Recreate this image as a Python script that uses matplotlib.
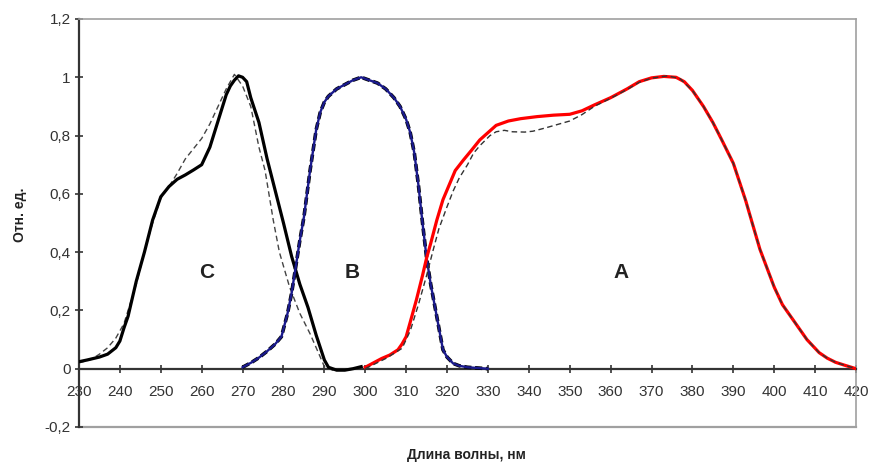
import matplotlib.pyplot as plt

plt.rcParams['font.family'] = ['Liberation Sans', 'DejaVu Sans']

# Curve C (solid black) and its dashed reference
c_x = [230, 232, 235, 237, 239, 240, 241, 242, 244, 246, 248, 250, 252, 254, 256, 258,
       260, 262, 264, 266, 267, 268, 269, 270, 271, 272, 274, 276, 278, 280, 282, 284,
       286, 288, 290, 291, 293, 295, 297, 299]
c_y = [0.024, 0.03, 0.04, 0.05, 0.072, 0.095, 0.14, 0.18, 0.30, 0.40, 0.51, 0.59, 0.625,
       0.65, 0.665, 0.682, 0.70, 0.76, 0.85, 0.94, 0.97, 0.99, 1.005, 1.0, 0.985, 0.93,
       0.845, 0.72, 0.61, 0.50, 0.385, 0.29, 0.21, 0.115, 0.03, 0.005, -0.005, -0.005,
       0.0, 0.007]
cd_x = [230, 233, 235, 237, 239, 241, 244, 246, 248, 250, 252, 254, 256, 258, 260, 262,
        264, 266, 268, 270, 272, 274, 275.5, 277.5, 279, 281.5, 284, 286.5, 289, 290,
        292, 295, 298]
cd_y = [0.02, 0.032, 0.05, 0.072, 0.105, 0.155, 0.29, 0.40, 0.50, 0.585, 0.625, 0.67,
        0.72, 0.755, 0.79, 0.84, 0.90, 0.96, 1.01, 0.97, 0.90, 0.76, 0.68, 0.51, 0.40,
        0.28, 0.19, 0.12, 0.04, 0.007, -0.005, -0.005, 0.0]

# Curve B (blue)
b_x = [270, 272, 274, 276, 278, 279.5, 281, 282, 283, 284, 285, 286.5, 288, 289, 290,
       291, 293, 295, 297, 299, 301, 303, 305, 307, 308.5, 310, 311, 312, 313, 314, 315,
       316, 317.5, 319, 320, 321.5, 323, 325, 330]
b_y = [0.005, 0.02, 0.038, 0.06, 0.085, 0.11, 0.19, 0.26, 0.35, 0.44, 0.52, 0.68, 0.82,
       0.88, 0.915, 0.935, 0.96, 0.975, 0.99, 1.0, 0.99, 0.98, 0.96, 0.93, 0.90, 0.855,
       0.81, 0.74, 0.63, 0.50, 0.38, 0.29, 0.178, 0.065, 0.04, 0.018, 0.01, 0.005, 0.0]

# Curve A (red) and its dashed reference
a_x = [300, 302, 304, 306, 308, 309, 310, 311, 312.5, 314, 315, 316, 317.5, 319, 320.5,
       322, 324, 326, 328, 330, 332, 335, 338, 342, 346, 350, 353, 356, 360, 364, 367,
       370, 373, 376, 378, 380, 382.7, 385, 387, 390, 393, 396.5, 400, 402, 405, 408,
       411, 413, 415, 417, 420]
a_y = [0.005, 0.02, 0.035, 0.047, 0.065, 0.085, 0.11, 0.16, 0.236, 0.32, 0.38, 0.43,
       0.51, 0.58, 0.63, 0.68, 0.716, 0.75, 0.785, 0.81, 0.835, 0.85, 0.858, 0.865, 0.87,
       0.873, 0.885, 0.905, 0.93, 0.96, 0.985, 0.998, 1.003, 1.0, 0.985, 0.955, 0.90,
       0.845, 0.79, 0.705, 0.578, 0.41, 0.28, 0.22, 0.16, 0.10, 0.055, 0.036, 0.022,
       0.013, 0.0]
ad_x = [300, 305, 309, 311, 313, 315, 316.6, 318, 320, 321.5, 323, 325, 326.5, 328,
        330.5, 332, 334, 336, 339, 341, 344, 347, 350, 353, 356, 360, 364, 367, 370, 374,
        377, 380, 382.7, 385, 387, 390, 393, 396.5, 400, 402, 405, 408, 411, 413, 415,
        417, 420]
ad_y = [0.0, 0.035, 0.07, 0.13, 0.22, 0.32, 0.407, 0.48, 0.556, 0.61, 0.655, 0.70, 0.74,
        0.765, 0.80, 0.813, 0.818, 0.813, 0.812, 0.815, 0.826, 0.838, 0.85, 0.872, 0.90,
        0.928, 0.958, 0.983, 0.997, 1.005, 0.995, 0.955, 0.90, 0.845, 0.79, 0.705, 0.578,
        0.41, 0.28, 0.22, 0.16, 0.10, 0.055, 0.036, 0.022, 0.013, 0.0]

x_ticks = list(range(230, 421, 10))
y_ticks = [-0.2, 0, 0.2, 0.4, 0.6, 0.8, 1, 1.2]
y_labels = ['-0,2', '0', '0,2', '0,4', '0,6', '0,8', '1', '1,2']

fig = plt.figure(figsize=(8.69, 4.63), dpi=100)
ax = fig.add_axes([79 / 869, 1 - 427 / 463, 777 / 869, 408 / 463])

# Draw curves
ax.plot(cd_x, cd_y, color='#444444', lw=1.0, ls=(0, (4, 2.5)), zorder=3)
ax.plot(c_x, c_y, color='black', lw=2.3, zorder=4)
ax.plot(b_x, b_y, color='black', lw=2.6, ls=(0, (2, 1)), zorder=3)
ax.plot(b_x, b_y, color='#1a1a8c', lw=1.7, zorder=4)
ax.plot(a_x, a_y, color='#ff0000', lw=2.3, zorder=4)
ax.plot(ad_x, ad_y, color='#333333', lw=1.0, ls=(0, (4, 2.5)), zorder=5)

# Curve labels
for lab, xx in [('C', 261.3), ('B', 296.8), ('A', 362.6)]:
    ax.text(xx, 0.33, lab, fontsize=15, fontweight='bold', ha='center', va='center',
            color='#222222')

ax.set_xlim(230, 420)
ax.set_ylim(-0.2, 1.2)

# Axes styling
for s in ['top', 'right']:
    ax.spines[s].set_color('#a0a0a0')
    ax.spines[s].set_linewidth(1.2)
ax.spines['left'].set_color('#333333')
ax.spines['left'].set_linewidth(1.6)
ax.spines['bottom'].set_position(('data', 0))
ax.spines['bottom'].set_color('#333333')
ax.spines['bottom'].set_linewidth(1.6)
ax.axhline(-0.2, color='#a0a0a0', lw=1.6, clip_on=False, zorder=1)

ax.set_xticks(x_ticks)
ax.set_xticklabels([str(v) for v in x_ticks])
ax.set_yticks(y_ticks)
ax.set_yticklabels(y_labels)
ax.tick_params(axis='both', direction='inout', length=6, width=1.2, color='#333333',
               labelsize=11, labelcolor='#333333')
ax.tick_params(axis='x', pad=9)
ax.tick_params(axis='y', pad=3)

fig.text(20 / 869, 1 - 215 / 463, 'Отн. ед.', rotation=90, fontsize=10, fontweight='bold',
         ha='center', va='center', color='#222222')
fig.text(466 / 869, 1 - 455 / 463, 'Длина волны, нм', fontsize=10, fontweight='bold',
         ha='center', va='center', color='#222222')

fig.savefig('out.png', dpi=100, facecolor='white')
